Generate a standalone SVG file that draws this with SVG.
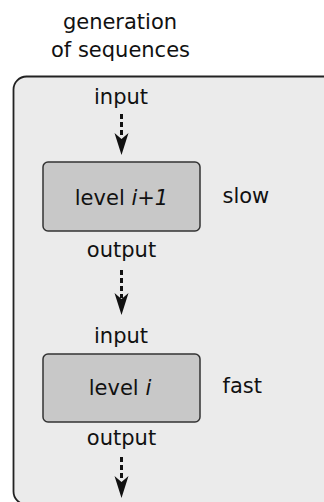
<svg xmlns="http://www.w3.org/2000/svg" width="324" height="502" viewBox="0 0 324 502">
<style>
text{font-family:"DejaVu Sans","Verdana",sans-serif;font-size:21px;fill:#111}
.c{text-anchor:middle}
.box{fill:#c8c8c8;stroke:#333;stroke-width:1.5}
.dash{stroke:#111;stroke-width:3;stroke-dasharray:5 3;fill:none}
.head{fill:#111}
</style>
<rect width="324" height="502" fill="#fff"/>
<g id="title">
<text class="c" x="120" y="29">generation</text>
<text class="c" x="120.5" y="57">of sequences</text>
</g>
<g id="container">
<rect x="13.5" y="76.5" width="330" height="428" rx="13" fill="#ebebeb" stroke="#222" stroke-width="1.8"/>
</g>
<g id="level-i1">
<rect class="box" x="43" y="162" width="157" height="69" rx="5"/>
<text class="c" x="121.5" y="205">level <tspan font-style="italic">i+1</tspan></text>
</g>
<g id="level-i">
<rect class="box" x="43" y="354" width="157" height="68" rx="5"/>
<text class="c" x="120" y="395">level <tspan font-style="italic">i</tspan></text>
</g>
<g id="labels">
<text class="c" x="121" y="104">input</text>
<text class="c" x="121.5" y="257">output</text>
<text class="c" x="121" y="343">input</text>
<text class="c" x="121.5" y="445">output</text>
<text x="222.5" y="203">slow</text>
<text x="222.5" y="393">fast</text>
</g>
<g id="connectors">
<line class="dash" x1="121.5" y1="114" x2="121.5" y2="138"/>
<path class="head" d="M121.5,155 L114.5,133 L121.5,139 L128.5,133 Z"/>
<line class="dash" x1="121.5" y1="270" x2="121.5" y2="298"/>
<path class="head" d="M121.5,315 L114.5,293 L121.5,299 L128.5,293 Z"/>
<line class="dash" x1="121.5" y1="457" x2="121.5" y2="481"/>
<path class="head" d="M121.5,498 L114.5,476 L121.5,482 L128.5,476 Z"/>
</g>
</svg>
